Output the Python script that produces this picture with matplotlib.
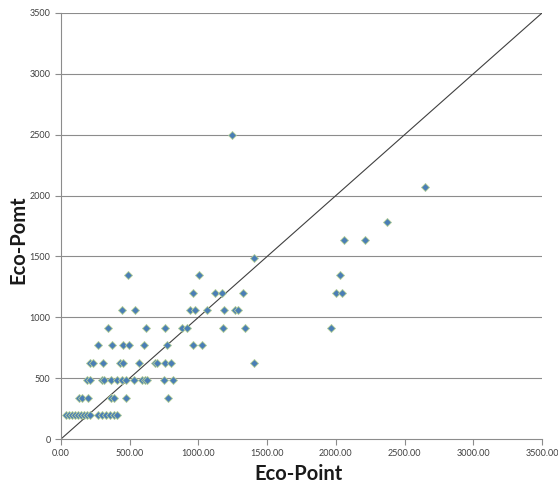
import matplotlib
matplotlib.use("Agg")
import matplotlib.pyplot as plt

# Data
x_vals = [35, 55, 80, 100, 125, 145, 170, 190, 210, 270, 300, 330, 355, 385, 410,
          130, 155, 195, 365, 385, 470, 780,
          187, 211, 296, 313, 364, 410, 442, 473, 531, 592, 611, 624, 750, 813,
          211, 235, 303, 429, 453, 568, 684, 701, 757, 798, 1407,
          271, 369, 453, 495, 606, 774, 958, 1028,
          344, 616, 757, 878, 915, 1177, 1339, 1963,
          442, 539, 939, 975, 1060, 1189, 1265, 1285,
          963, 1121, 1170, 1322, 2001, 2043,
          485, 1004, 2030,
          1407,
          2060, 2215,
          2375,
          2650,
          1245]
y_vals = [197] * 15 + [340] * 7 + [485] * 14 + [625] * 11 + [770] * 8 + [912] * 8 + \
         [1060] * 8 + [1200] * 6 + [1345] * 3 + [1490] + [1635] * 2 + [1780] + [2070] + [2500]

x_ticks = [0, 500, 1000, 1500, 2000, 2500, 3000, 3500]
y_ticks = [0, 500, 1000, 1500, 2000, 2500, 3000, 3500]
diag = [0, 3500]

plt.rcParams['font.family'] = ['Lato', 'DejaVu Sans']

fig = plt.figure(figsize=(5.58, 4.86), dpi=100)
ax = fig.add_axes([61/558, 1 - 439/486, 481/558, 426/486])

grid_c = '#8c8c8c'
for yt in y_ticks[1:]:
    ax.axhline(yt, color=grid_c, lw=0.8, zorder=1)

ax.plot(diag, diag, color='#404040', lw=0.8, zorder=2)
ax.plot(x_vals, y_vals, linestyle='none', marker='D', ms=4.2,
        markerfacecolor='#4a7eb5', markeredgecolor='#b5cf98', markeredgewidth=0.6, zorder=3)

ax.set_xlim(0, 3500)
ax.set_ylim(0, 3500)
ax.set_xticks(x_ticks)
ax.set_xticklabels([f"{v:.2f}" for v in x_ticks])
ax.set_yticks(y_ticks)
ax.set_yticklabels([str(v) for v in y_ticks])

for s in ['top', 'right']:
    ax.spines[s].set_visible(False)
for s in ['left', 'bottom']:
    ax.spines[s].set_color(grid_c)
    ax.spines[s].set_linewidth(0.8)
ax.tick_params(axis='both', which='major', length=4, width=0.8, color=grid_c,
               labelsize=6.5, labelcolor='#404040', direction='out')

fig.text(298/558, 1 - 474/486, 'Eco-Point', fontsize=14.5, fontweight='bold',
         ha='center', va='center', color='#1a1a1a')
fig.text(18/558, 1 - 240/486, 'Eco-Pomt', fontsize=14.5, fontweight='bold',
         ha='center', va='center', rotation=90, color='#1a1a1a')

fig.savefig('out.png', dpi=100)
